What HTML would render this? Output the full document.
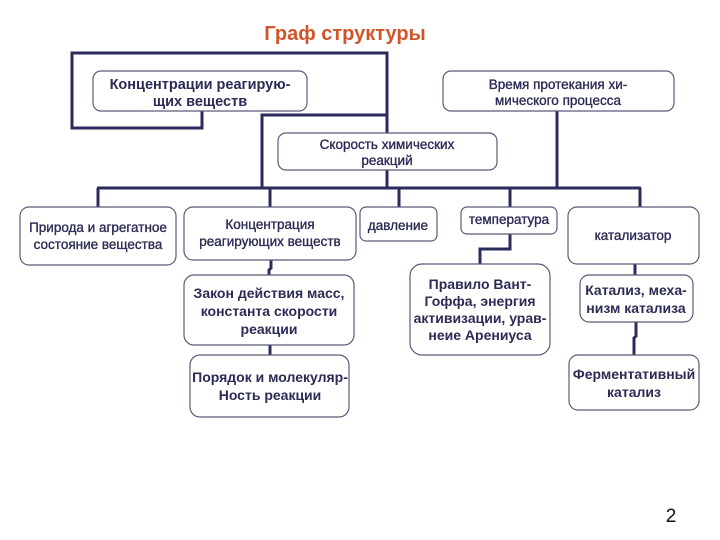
<!DOCTYPE html>
<html><head><meta charset="utf-8"><style>
html,body{margin:0;padding:0;background:#fff;}
svg{display:block;}
text{font-family:"Liberation Sans","DejaVu Sans",sans-serif;fill:#2b2b55;text-anchor:middle;}
.b{font-weight:bold;}
.m{stroke:#2b2b55;stroke-width:0.35px;}
</style></head><body>
<svg width="720" height="540" viewBox="0 0 720 540" xmlns="http://www.w3.org/2000/svg">
<g fill="none" stroke="#2b2b5c" stroke-width="3">
<polyline points="202,110 202,128 72,128 72,53 387,53 387,188"/>
<polyline points="262,188 262,115 387,115"/>
<line x1="97" y1="188" x2="641" y2="188"/>
<line x1="98" y1="188" x2="98" y2="208"/>
<line x1="270" y1="188" x2="270" y2="207"/>
<line x1="399" y1="188" x2="399" y2="207"/>
<line x1="510" y1="188" x2="510" y2="207"/>
<line x1="640" y1="188" x2="640" y2="207"/>
<line x1="557" y1="110" x2="557" y2="188"/>
<polyline points="510,234 510,249 480,249 480,265"/>
<polyline points="271,260 271,268 269,270 269,276"/>
<line x1="270" y1="345" x2="270" y2="355"/>
<line x1="635" y1="264" x2="635" y2="275"/>
<polyline points="636,322 636,336 634,338 634,355"/>
</g>
<g fill="#fff" stroke="#5a5a7a" stroke-width="1.2">
<rect x="93" y="71" width="214" height="40" rx="8"/>
<rect x="443" y="71" width="231" height="40" rx="8"/>
<rect x="278" y="133" width="219" height="37" rx="8"/>
<rect x="20" y="207" width="156" height="58" rx="9"/>
<rect x="184" y="207" width="172" height="53" rx="9"/>
<rect x="360" y="207" width="77" height="34" rx="6"/>
<rect x="461" y="207" width="96" height="27" rx="6"/>
<rect x="568" y="207" width="131" height="57" rx="9"/>
<rect x="184" y="275" width="170" height="70" rx="10"/>
<rect x="190" y="355" width="159" height="62" rx="10"/>
<rect x="410" y="264" width="140" height="91" rx="12"/>
<rect x="580" y="275" width="113" height="47" rx="9"/>
<rect x="569" y="355" width="130" height="55" rx="9"/>
</g>
<text x="345" y="40" class="b" style="fill:#d2552a;font-size:20px">Граф структуры</text>
<text x="200" y="89" class="b" font-size="14.5">Концентрации реагирую-</text>
<text x="200" y="106" class="b" font-size="14.5">щих веществ</text>
<g font-size="13.5" class="m">
<text x="558" y="89">Время протекания хи-</text>
<text x="558" y="105">мического процесса</text>
<text x="387" y="149">Скорость химических</text>
<text x="387" y="165">реакций</text>
<text x="98" y="232">Природа и агрегатное</text>
<text x="98" y="249">состояние вещества</text>
<text x="270" y="229">Концентрация</text>
<text x="270" y="246">реагирующих веществ</text>
<text x="398" y="230">давление</text>
<text x="509" y="224">температура</text>
<text x="633" y="240">катализатор</text>
</g>
<g font-size="14">
<text x="269" y="298" class="b">Закон действия масс,</text>
<text x="269" y="316" class="b">константа скорости</text>
<text x="269" y="334" class="b">реакции</text>
<text x="270" y="382" class="b">Порядок и молекуляр-</text>
<text x="270" y="400" class="b">Ность реакции</text>
<text x="480" y="289" class="b">Правило Вант-</text>
<text x="480" y="306" class="b">Гоффа, энергия</text>
<text x="480" y="323" class="b">активизации, урав-</text>
<text x="480" y="340" class="b">неие Арениуса</text>
<text x="636" y="295" class="b">Катализ, меха-</text>
<text x="636" y="313" class="b">низм катализа</text>
<text x="634" y="379" class="b">Ферментативный</text>
<text x="634" y="397" class="b">катализ</text>
</g>
<text x="671" y="522" style="fill:#111;font-size:19px">2</text>
</svg>
</body></html>
